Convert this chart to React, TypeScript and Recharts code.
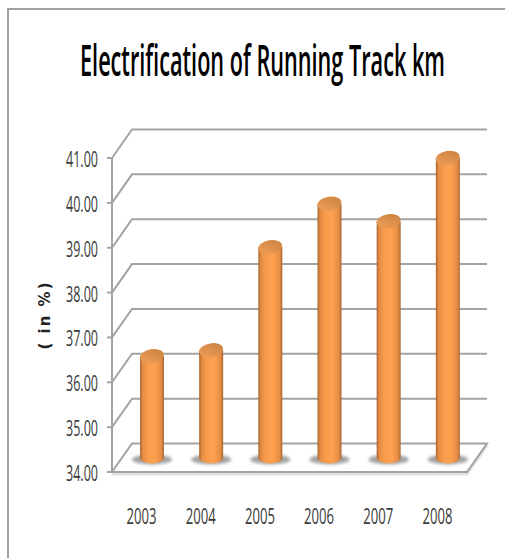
import { BarChart, Bar, XAxis, YAxis, CartesianGrid } from "recharts";

const years = ["2003", "2004", "2005", "2006", "2007", "2008"];
const electrified = [36.26, 36.39, 38.69, 39.66, 39.27, 40.68];
const yTicks = [34, 35, 36, 37, 38, 39, 40, 41];

const chartData = years.map((year, i) => ({ year, value: electrified[i] }));

const W = 505;
const H = 558;
// fake 3d: how far the back wall sits from the front of the floor
const DEPTH_X = 20;
const DEPTH_Y = 28.5;
// bars stand half way into the floor
const BAR_DX = 10;
const BAR_DY = -14.5;
const GRID = "#a3a3a3";
const FONT = "'Open Sans', sans-serif";

function GridLine(props: any) {
  const { x1, x2, y1, y, height } = props;
  const isFloor = y1 >= y + height - 1;
  const bx1 = x1 + DEPTH_X;
  const bx2 = x2 + DEPTH_X;
  const by = y1 - DEPTH_Y;
  if (isFloor) {
    return (
      <g>
        <path d={`M${x1},${y1 + 2} H${x2} L${bx2},${by + 2}`} fill="none" stroke="#000" strokeOpacity={0.12} strokeWidth={3} />
        <path d={`M${x1},${y1} L${bx1},${by} H${bx2} L${x2},${y1} Z`} fill="#fff" stroke={GRID} strokeWidth={2} />
      </g>
    );
  }
  return <polyline points={`${x1},${y1} ${bx1},${by} ${bx2},${by}`} fill="none" stroke={GRID} strokeWidth={2} />;
}

function Cylinder(props: any) {
  const { x, y, width, height } = props;
  const left = x + BAR_DX;
  const right = left + width;
  const cx = left + width / 2;
  const top = y + BAR_DY;
  const bottom = y + height + BAR_DY;
  const rx = width / 2;
  return (
    <g>
      <ellipse cx={cx} cy={bottom + 2} rx={rx + 8} ry={5} fill="#666" opacity={0.6} filter="url(#floorBlur)" />
      <path d={`M${left},${top} V${bottom} A${rx},6 0 0 0 ${right},${bottom} V${top} Z`} fill="url(#barBody)" />
      <ellipse cx={cx} cy={top} rx={rx} ry={7} fill="url(#barTop)" transform={`rotate(-9 ${cx} ${top})`} />
    </g>
  );
}

function YTick({ x, y, payload }: any) {
  return (
    <text x={x} y={y + 9} textAnchor="end" fontFamily={FONT} fontSize={22} fill="#3a3a3a" textLength={32} lengthAdjust="spacingAndGlyphs">
      {payload.value.toFixed(2)}
    </text>
  );
}

function XTick({ x, y, payload }: any) {
  return (
    <text x={x} y={y} textAnchor="middle" fontFamily={FONT} fontSize={22} fill="#3a3a3a" textLength={30} lengthAdjust="spacingAndGlyphs">
      {payload.value}
    </text>
  );
}

export default function App() {
  return (
    <div style={{ position: "absolute", left: 0, top: 0, width: W, height: H, background: "#fff", overflow: "hidden" }}>
      <div style={{ position: "absolute", left: 7, top: 8, width: W, height: H, borderLeft: "2px solid #a0a0a0", borderTop: "2px solid #a0a0a0" }} />
      <svg width={W} height={100} style={{ position: "absolute", left: 0, top: 0 }}>
        <text transform="translate(80,76) scale(1,2)" fontFamily={FONT} fontWeight={600} fontSize={21.5} fill="#000" textLength={365} lengthAdjust="spacingAndGlyphs">
          Electrification of Running Track km
        </text>
      </svg>
      <div style={{ position: "absolute", left: 0, top: 0 }}>
        <BarChart width={W} height={H} data={chartData} margin={{ top: 158, right: 38, bottom: 0, left: 0 }}>
          <defs>
            <linearGradient id="barBody" x1="0" y1="0" x2="1" y2="0">
              <stop offset="0%" stopColor="#a9662f" />
              <stop offset="11%" stopColor="#e38c44" />
              <stop offset="32%" stopColor="#f89c4c" />
              <stop offset="62%" stopColor="#ffa150" />
              <stop offset="89%" stopColor="#e38c44" />
              <stop offset="100%" stopColor="#a9662f" />
            </linearGradient>
            <linearGradient id="barTop" x1="0" y1="1" x2="1" y2="0">
              <stop offset="0%" stopColor="#f0a05a" />
              <stop offset="100%" stopColor="#c9803f" />
            </linearGradient>
            <filter id="floorBlur" x="-30%" y="-60%" width="160%" height="220%">
              <feGaussianBlur stdDeviation="1.6" />
            </filter>
          </defs>
          <CartesianGrid vertical={false} horizontal={(p: any) => <GridLine key={p.key} {...p} />} />
          <XAxis dataKey="year" height={86} axisLine={false} tickLine={false} tickMargin={46} tick={<XTick />} interval={0} />
          <YAxis
            width={112}
            domain={[34, 41]}
            ticks={yTicks}
            interval={0}
            tick={<YTick />}
            tickSize={5}
            tickMargin={9}
            axisLine={{ stroke: GRID, strokeWidth: 2 }}
            tickLine={{ stroke: GRID, strokeWidth: 2 }}
            label={{
              value: "( in %)",
              angle: -90,
              position: "insideLeft",
              offset: 45,
              style: { fontFamily: "'DejaVu Sans', sans-serif", fontWeight: 700, fontSize: 15, letterSpacing: 2, fill: "#222", textAnchor: "middle" },
            }}
          />
          <Bar dataKey="value" barSize={24} shape={<Cylinder />} isAnimationActive={false} />
        </BarChart>
      </div>
    </div>
  );
}
